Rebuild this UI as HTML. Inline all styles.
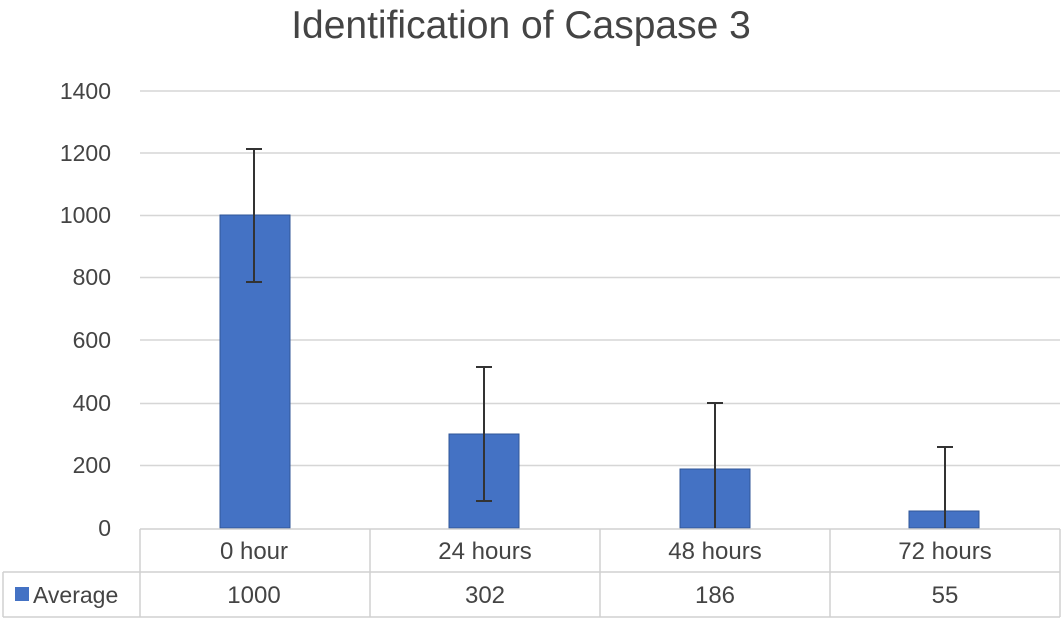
<!DOCTYPE html>
<html><head><style>
body{margin:0;background:#fff;}
svg text{font-family:"Liberation Sans",sans-serif;fill:#444;}
</style></head><body>
<svg width="1063" height="622" viewBox="0 0 1063 622" xmlns="http://www.w3.org/2000/svg">
<text x="521" y="38" font-size="39" text-anchor="middle" fill="#404040">Identification of Caspase 3</text>
<g stroke="#d6d6d6" stroke-width="1.5">
<line x1="140" y1="91" x2="1060" y2="91"/>
<line x1="140" y1="153" x2="1060" y2="153"/>
<line x1="140" y1="215.5" x2="1060" y2="215.5"/>
<line x1="140" y1="277.5" x2="1060" y2="277.5"/>
<line x1="140" y1="340" x2="1060" y2="340"/>
<line x1="140" y1="403.5" x2="1060" y2="403.5"/>
<line x1="140" y1="465.5" x2="1060" y2="465.5"/>
</g>
<g font-size="23" text-anchor="end">
<text x="111" y="99">1400</text>
<text x="111" y="161">1200</text>
<text x="111" y="223">1000</text>
<text x="111" y="285">800</text>
<text x="111" y="348">600</text>
<text x="111" y="411">400</text>
<text x="111" y="473">200</text>
<text x="111" y="536">0</text>
</g>
<g fill="#4472c4" stroke="#2f5597" stroke-width="1">
<rect x="220" y="215" width="70" height="313"/>
<rect x="449" y="434" width="70" height="94"/>
<rect x="680" y="469" width="70" height="59"/>
<rect x="909" y="511" width="70" height="17"/>
</g>
<g stroke="#333" stroke-width="2">
<line x1="254" y1="149" x2="254" y2="282"/><line x1="246" y1="149" x2="262" y2="149"/><line x1="246" y1="282" x2="262" y2="282"/>
<line x1="484" y1="367" x2="484" y2="501"/><line x1="476" y1="367" x2="492" y2="367"/><line x1="476" y1="501" x2="492" y2="501"/>
<line x1="715" y1="403" x2="715" y2="528"/><line x1="707" y1="403" x2="723" y2="403"/>
<line x1="945" y1="447" x2="945" y2="528"/><line x1="937" y1="447" x2="953" y2="447"/>
</g>
<g stroke="#d0d0d0" stroke-width="1.5" fill="none">
<line x1="140" y1="529" x2="1060" y2="529"/>
<line x1="3" y1="572" x2="1060" y2="572"/>
<line x1="3" y1="617" x2="1060" y2="617"/>
<line x1="3" y1="572" x2="3" y2="617"/>
<line x1="140" y1="529" x2="140" y2="617"/>
<line x1="370" y1="529" x2="370" y2="617"/>
<line x1="600" y1="529" x2="600" y2="617"/>
<line x1="830" y1="529" x2="830" y2="617"/>
<line x1="1060" y1="529" x2="1060" y2="617"/>
</g>
<g font-size="24" text-anchor="middle">
<text x="254" y="559">0 hour</text>
<text x="485" y="559">24 hours</text>
<text x="715" y="559">48 hours</text>
<text x="945" y="559">72 hours</text>
<text x="254" y="603">1000</text>
<text x="485" y="603">302</text>
<text x="715" y="603">186</text>
<text x="945" y="603">55</text>
</g>
<rect x="15" y="587" width="14" height="14" fill="#4472c4"/>
<text x="33" y="603" font-size="23">Average</text>
</svg>
</body></html>
